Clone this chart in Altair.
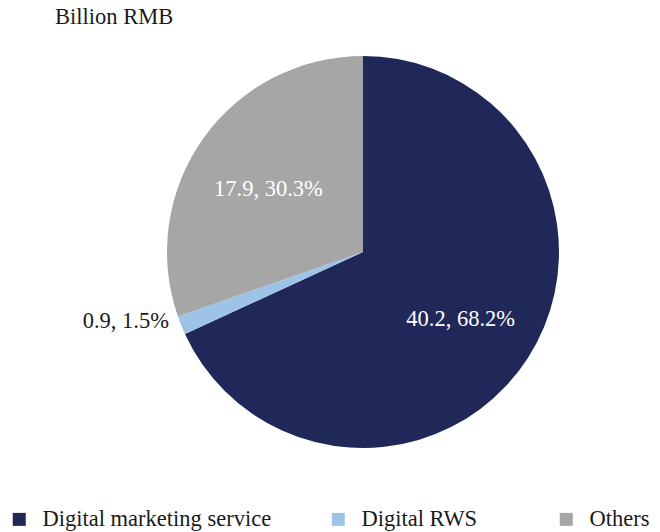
import altair as alt
import pandas as pd

categories = ["Digital marketing service", "Digital RWS", "Others"]
values = [40.2, 0.9, 17.9]
percents = [68.2, 1.5, 30.3]
colors = ["#1F2858", "#9DC3E6", "#A6A6A6"]
unit_title = ["Billion RMB"]

FONT = "Liberation Serif"
FS = 22.5
CX, CY, R = 355, 244, 196
PAD = "\u00a0" * 4 + "\u200b"

df = pd.DataFrame({
    "category": categories,
    "value": values,
    "pct": percents,
    "order": list(range(len(categories))),
})
df["label"] = [f"{v}, {p}%" for v, p in zip(values, percents)]

base = alt.Chart(df).encode(
    theta=alt.Theta("value:Q", stack=True),
    order=alt.Order("order:Q"),
)

pie = base.mark_arc(outerRadius=R).encode(
    x=alt.value(CX),
    y=alt.value(CY),
    color=alt.Color(
        "category:N",
        sort=categories,
        scale=alt.Scale(domain=categories, range=colors),
        legend=alt.Legend(
            title=None,
            orient="none",
            direction="horizontal",
            legendX=0,
            legendY=500,
            symbolType="square",
            symbolSize=169,
            symbolStrokeWidth=0,
            labelFont=FONT,
            labelFontSize=FS,
            labelColor="#1a1a1a",
            columnPadding=55,
            labelOffset=12,
            labelLimit=400,
            padding=0,
            labelExpr=f"datum.label == 'Digital RWS' ? datum.label + '{PAD}' : datum.label",
        ),
    ),
)

inner = base.transform_calculate(
    txt="datum.category != 'Digital RWS' ? datum.label : ''"
).mark_text(radius=116, dy=4, font=FONT, fontSize=FS, color="white").encode(
    x=alt.value(CX), y=alt.value(CY), text="txt:N"
)

outer = base.transform_calculate(
    txt="datum.category == 'Digital RWS' ? datum.label : ''"
).mark_text(radius=245, dx=-10, dy=-23, font=FONT, fontSize=FS, color="#1a1a1a").encode(
    x=alt.value(CX), y=alt.value(CY), text="txt:N"
)

title = alt.Chart(pd.DataFrame({"t": unit_title})).mark_text(
    align="left", baseline="alphabetic", font=FONT, fontSize=FS, color="#1a1a1a"
).encode(x=alt.value(47), y=alt.value(16), text="t:N")

chart = alt.layer(pie, inner, outer, title).properties(
    width=644, height=524, padding=0, autosize=alt.AutoSizeParams(type="none")
).configure_view(stroke=None)

chart.save("out.html", embed_options={"renderer": "svg", "actions": False})
